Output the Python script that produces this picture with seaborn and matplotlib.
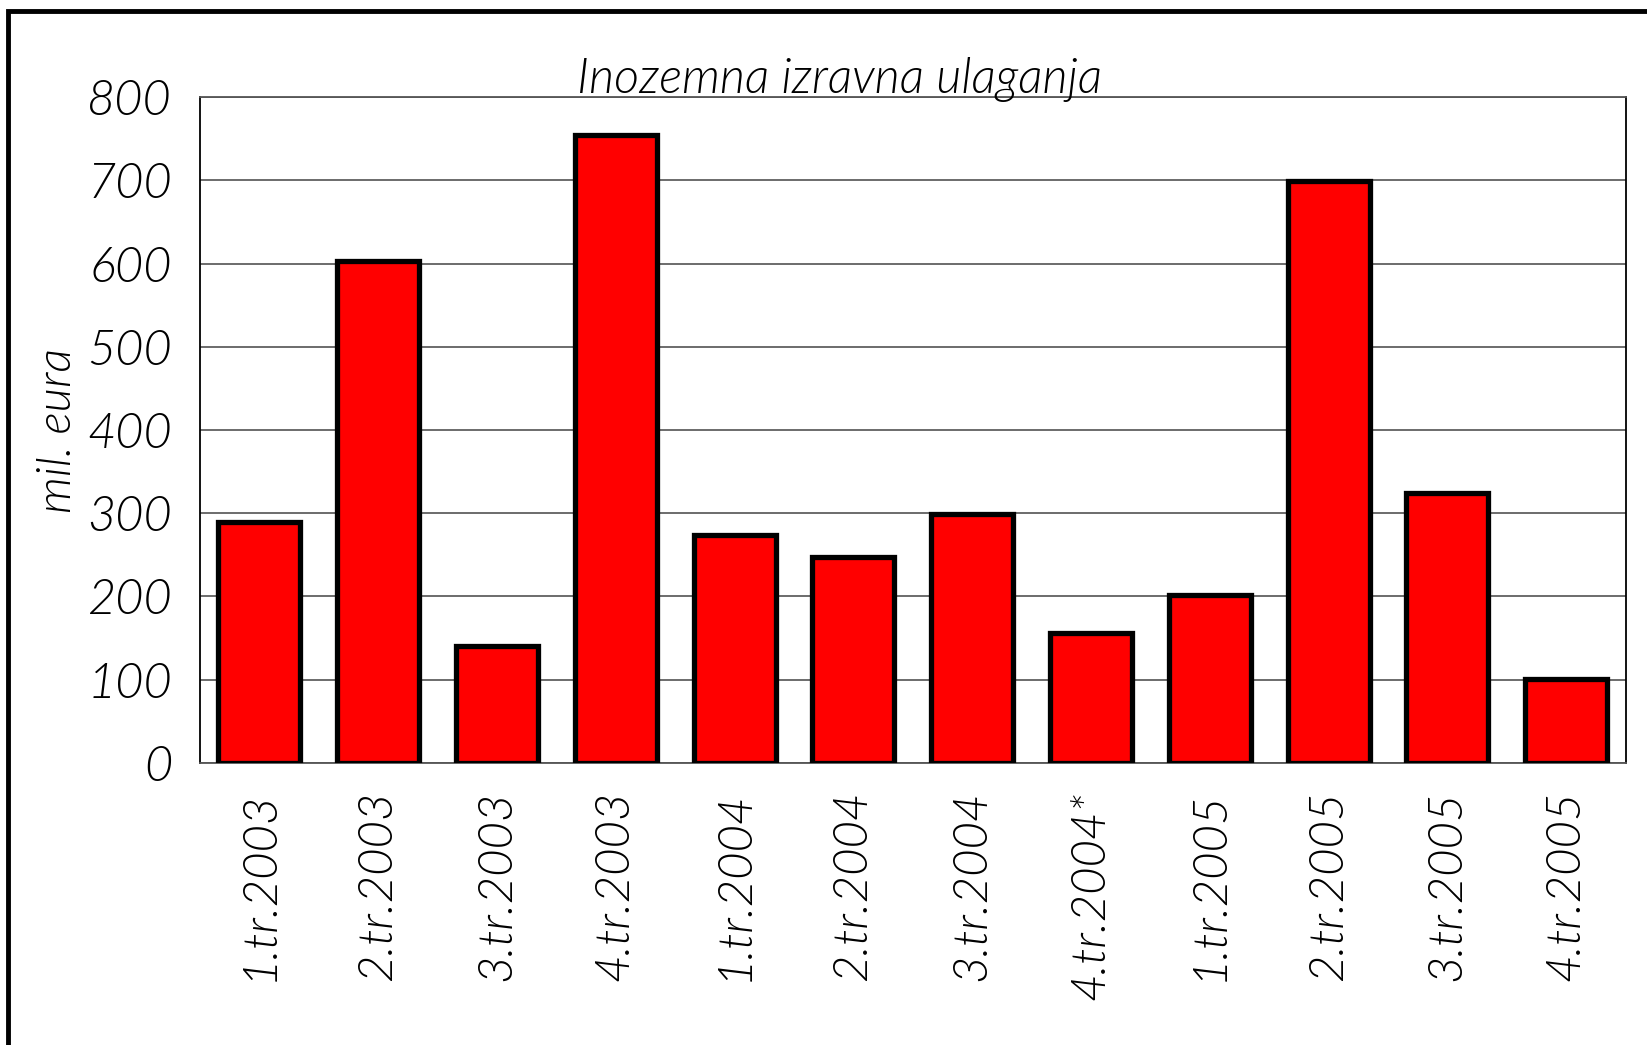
import matplotlib
matplotlib.use("Agg")
import matplotlib.pyplot as plt
import seaborn as sns
import pandas as pd
from matplotlib.patches import Rectangle

# Data (mil. eura per quarter)
quarters = ["1.tr.2003", "2.tr.2003", "3.tr.2003", "4.tr.2003",
            "1.tr.2004", "2.tr.2004", "3.tr.2004", "4.tr.2004*",
            "1.tr.2005", "2.tr.2005", "3.tr.2005", "4.tr.2005"]
values = [289, 603, 141, 755, 274, 247, 299, 156, 202, 699, 324, 101]
y_ticks = [0, 100, 200, 300, 400, 500, 600, 700, 800]

df = pd.DataFrame({"kvartal": quarters, "iznos": values})

sns.set_style("white")
plt.rcParams["font.family"] = ["Lato", "DejaVu Sans"]
plt.rcParams["text.color"] = "black"
plt.rcParams["xtick.color"] = "black"
plt.rcParams["ytick.color"] = "black"
plt.rcParams["axes.labelcolor"] = "black"
W = 300  # text weight

fig = plt.figure(figsize=(16.47, 10.45), dpi=100)
ax = fig.add_axes([0.1214, 0.270, 0.8656, 0.637])

sns.barplot(data=df, x="kvartal", y="iznos", color="#ff0000", saturation=1,
            width=0.69, edgecolor="black", linewidth=3.8, ax=ax, zorder=3)

ax.set_ylim(0, 800)
ax.set_xlim(-0.5, len(quarters) - 0.5)
ax.set_yticks(y_ticks)
ax.set_yticklabels([str(t) for t in y_ticks], fontsize=35, style="italic", fontweight=W)
ax.yaxis.grid(True, color="#444444", linewidth=1.1, zorder=0)
ax.set_axisbelow(True)

# category labels, ticks sit between the bars
ax.set_xticks(range(len(quarters)))
ax.set_xticklabels(quarters, rotation=90, fontsize=34, style="italic", fontweight=W)
ax.tick_params(axis="x", which="major", length=0, pad=20)
ax.set_xticks([i - 0.5 for i in range(len(quarters) + 1)], minor=True)
ax.tick_params(axis="x", which="minor", length=12, width=1.2, color="#333333", direction="out")
ax.tick_params(axis="y", length=12, width=1.2, color="#333333", direction="out", pad=8)

for side in ["left", "right", "top", "bottom"]:
    ax.spines[side].set_visible(True)
    ax.spines[side].set_color("black")
    ax.spines[side].set_linewidth(1.3)
ax.spines["top"].set_color("#555555")
ax.spines["bottom"].set_color("#555555")

ax.set_xlabel("")
ax.set_ylabel("mil. eura", fontsize=34, style="italic", fontweight=W)
ax.yaxis.set_label_coords(-0.085, 0.5)

fig.text(0.51, 0.911, "Inozemna izravna ulaganja", fontsize=35, style="italic",
         fontweight=W, ha="center", va="baseline")

# outer frame of the chart object, cut off at right and bottom
fig.patches.append(Rectangle((0.0048, -0.05), 1.05, 1.039, transform=fig.transFigure,
                             fill=False, edgecolor="black", linewidth=3.5))

fig.savefig("out.png", dpi=100)
